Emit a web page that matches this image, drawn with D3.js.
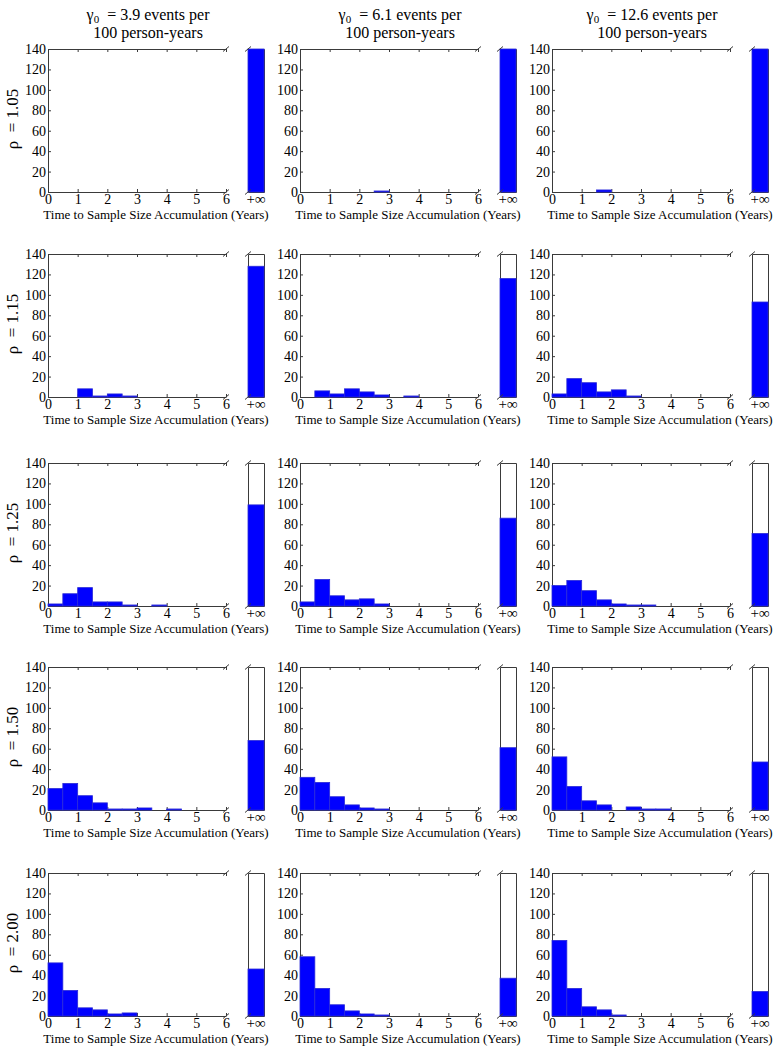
<!DOCTYPE html>
<html>
<head>
<meta charset="utf-8">
<script src="https://cdn.jsdelivr.net/npm/d3@7"></script>
<style>
  body { margin: 0; background: #fff; }
  text { white-space: pre; }
</style>
</head>
<body>
<script>
// column headers (gamma0, events per 100 person-years) and row labels (rho)
var gammaLabels = ["3.9", "6.1", "12.6"];
var rhoLabels = ["1.05", "1.15", "1.25", "1.50", "2.00"];

// histogram bins: start of each half-year bin
var binStarts = [0, 0.5, 1, 1.5, 2, 2.5, 3, 3.5, 4, 4.5, 5, 5.5];
var xTicks = [0, 1, 2, 3, 4, 5, 6];
var yTicks = [0, 20, 40, 60, 80, 100, 120, 140];
var infLabel = "+\u221e";

// counts per bin, one array per gamma column
var counts105 = [
  [0, 0, 0, 0, 0, 0, 0, 0, 0, 0, 0, 0],
  [0, 0, 0, 0, 0, 1, 0, 0, 0, 0, 0, 0],
  [0, 0, 0, 2, 0, 0, 0, 0, 0, 0, 0, 0]
];
var counts115 = [
  [0, 0, 8, 1, 3, 1, 0, 0, 0, 0, 0, 0],
  [0, 6, 3, 8, 5, 2, 0, 1, 0, 0, 0, 0],
  [3, 18, 14, 5, 7, 1, 0, 0, 0, 0, 0, 0]
];
var counts125 = [
  [2, 12, 18, 4, 4, 1, 0, 1, 0, 0, 0, 0],
  [4, 26, 10, 6, 7, 2, 0, 0, 0, 0, 0, 0],
  [20, 25, 15, 6, 2, 1, 1, 0, 0, 0, 0, 0]
];
var counts150 = [
  [21, 26, 14, 7, 1, 1, 2, 0, 1, 0, 0, 0],
  [32, 27, 13, 5, 2, 1, 0, 0, 0, 0, 0, 0],
  [52, 23, 9, 5, 0, 3, 1, 1, 0, 0, 0, 0]
];
var counts200 = [
  [52, 25, 8, 6, 2, 3, 0, 0, 0, 0, 0, 0],
  [58, 27, 11, 5, 2, 1, 0, 0, 0, 0, 0, 0],
  [74, 27, 9, 6, 1, 0, 0, 0, 0, 0, 0, 0]
];
// counts that never reached the sample size (+infinity bar)
var inf105 = [140, 140, 140];
var inf115 = [128, 116, 93];
var inf125 = [99, 86, 71];
var inf150 = [68, 61, 47];
var inf200 = [46, 37, 24];

var rowCounts = [counts105, counts115, counts125, counts150, counts200];
var rowInf = [inf105, inf115, inf125, inf150, inf200];

//layout
var colLeft = [48, 300, 552];
var rowTop = [49, 254, 463, 667, 873];
var mainWidth = 178;
var gapWidth = 22;
var infWidth = 16;
var panelHeight = 143;
var serif = "'Liberation Serif', 'Times New Roman', serif";
var blue = "#0000ff";
var axisColor = "#3a3a3a";

var svg = d3.select("body").append("svg")
  .attr("width", 775)
  .attr("height", 1050);

//column headers
gammaLabels.forEach(function(g, c) {
  var cx = (colLeft[c] + colLeft[c] + mainWidth + gapWidth + infWidth) / 2 - 8;
  var t1 = svg.append("text")
    .attr("x", cx).attr("y", 20)
    .attr("text-anchor", "middle")
    .style("font-family", serif).style("font-size", "16px");
  t1.append("tspan").text("\u03b3");
  t1.append("tspan").attr("font-size", "11px").attr("dy", 3).text("0");
  t1.append("tspan").attr("dy", -3).text("  = " + g + " events per");
  svg.append("text")
    .attr("x", cx).attr("y", 38)
    .attr("text-anchor", "middle")
    .style("font-family", serif).style("font-size", "16px")
    .text("100 person-years");
});

//row labels
rhoLabels.forEach(function(r, i) {
  svg.append("text")
    .attr("transform", "translate(18," + (rowTop[i] + 70) + ") rotate(-90)")
    .attr("text-anchor", "middle")
    .style("font-family", serif).style("font-size", "17px")
    .text("\u03c1  = " + r);
});

function styleAxis(g) {
  g.selectAll("path, line").attr("stroke", axisColor);
  g.selectAll("text")
    .attr("fill", "#000")
    .style("font-family", serif)
    .style("font-size", "14px");
}

function breakMark(x, y) {
  svg.append("line")
    .attr("x1", x - 3).attr("y1", y + 2.5)
    .attr("x2", x + 3).attr("y2", y - 2.5)
    .attr("stroke", axisColor).attr("stroke-width", 1);
}

rowCounts.forEach(function(cols, r) {
  cols.forEach(function(counts, c) {
    var x0 = colLeft[c];
    var top = rowTop[r];
    var x = d3.scaleLinear().domain([0, 6]).range([x0, x0 + mainWidth]);
    var y = d3.scaleLinear().domain([0, 140]).range([top + panelHeight, top]).clamp(true);
    var infX = d3.scaleBand().domain([infLabel])
      .range([x0 + mainWidth + gapWidth, x0 + mainWidth + gapWidth + infWidth]);

    var panel = svg.append("g");

    // main axes
    panel.append("g")
      .attr("transform", "translate(0," + (top + panelHeight) + ")")
      .call(d3.axisBottom(x).tickValues(xTicks).tickFormat(d3.format("d"))
        .tickSize(-3).tickSizeOuter(0).tickPadding(2))
      .call(styleAxis);
    panel.append("g")
      .attr("transform", "translate(0," + top + ")")
      .call(d3.axisTop(x).tickValues(xTicks).tickSize(-3).tickSizeOuter(0).tickFormat(""))
      .call(styleAxis);
    panel.append("g")
      .attr("transform", "translate(" + x0 + ",0)")
      .call(d3.axisLeft(y).tickValues(yTicks).tickSize(-3).tickSizeOuter(0).tickPadding(2))
      .call(styleAxis);

    // inf panel axes
    panel.append("g")
      .attr("transform", "translate(0," + (top + panelHeight) + ")")
      .call(d3.axisBottom(infX).tickSize(0).tickPadding(1))
      .call(styleAxis)
      .selectAll("text").style("font-size", "15px");
    panel.append("g")
      .attr("transform", "translate(0," + top + ")")
      .call(d3.axisTop(infX).tickSize(0).tickFormat(""))
      .call(styleAxis);
    panel.append("g")
      .attr("transform", "translate(" + infX.range()[0] + ",0)")
      .call(d3.axisLeft(y).tickValues([]).tickSizeOuter(0))
      .call(styleAxis);
    panel.append("g")
      .attr("transform", "translate(" + infX.range()[1] + ",0)")
      .call(d3.axisRight(y).tickValues([]).tickSizeOuter(0))
      .call(styleAxis);

    // histogram bars
    panel.append("g").selectAll("rect")
      .data(counts)
      .enter()
      .append("rect")
      .attr("x", function(d, i) { return x(binStarts[i]); })
      .attr("y", function(d) { return y(d); })
      .attr("width", function(d, i) { return x(binStarts[i] + 0.5) - x(binStarts[i]); })
      .attr("height", function(d) { return y(0) - y(d); })
      .attr("fill", blue)
      .attr("stroke", "#2a2ad8")
      .attr("stroke-width", 0.8);

    // +inf bar
    panel.append("rect")
      .attr("x", infX(infLabel))
      .attr("y", y(rowInf[r][c]))
      .attr("width", infX.bandwidth())
      .attr("height", y(0) - y(rowInf[r][c]))
      .attr("fill", blue)
      .attr("stroke", "#2a2ad8")
      .attr("stroke-width", 0.8);

    // axis break marks
    breakMark(x(6), y(140));
    breakMark(x(6), y(0));
    breakMark(infX.range()[0], y(140));
    breakMark(infX.range()[0], y(0));

    // x axis title
    svg.append("text")
      .attr("x", (x0 + infX.range()[1]) / 2)
      .attr("y", top + panelHeight + 27)
      .attr("text-anchor", "middle")
      .style("font-family", serif).style("font-size", "13px")
      .text("Time to Sample Size Accumulation (Years)");
  });
});
</script>
</body>
</html>
